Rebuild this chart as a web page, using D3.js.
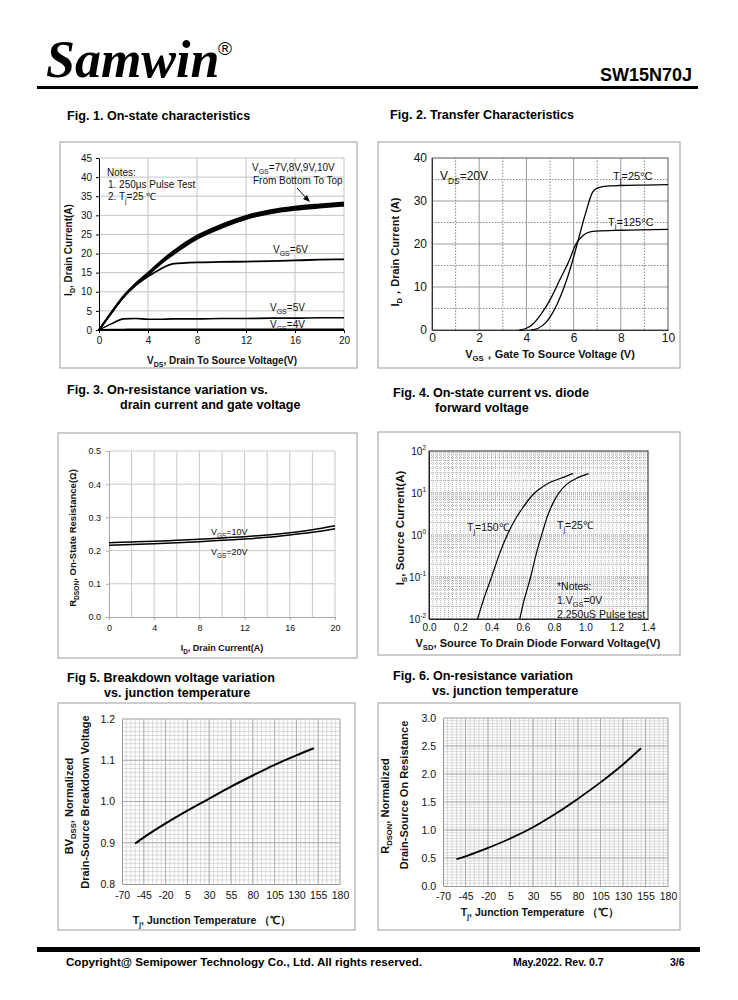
<!DOCTYPE html>
<html><head><meta charset="utf-8">
<script src="https://cdn.jsdelivr.net/npm/d3@7"></script>
<style>body{margin:0;background:#fff}svg{display:block}</style>
</head><body><svg id="c" width="738" height="1000"></svg>
<script>
// ---------- data ----------
const fig1Vds  = [0,1,2,3,4,5,6,8,10,12,14,16,18,20];
const fig1Id7  = [0,4.4,8.6,11.8,14.4,17.2,19.6,23.8,26.7,29.0,30.5,31.4,32.0,32.5];
const fig1Id8  = [0,4.5,8.7,11.9,14.6,17.5,19.9,24.1,27.0,29.3,30.8,31.7,32.3,32.8];
const fig1Id9  = [0,4.5,8.8,12.1,14.8,17.7,20.2,24.4,27.3,29.6,31.1,32.0,32.6,33.1];
const fig1Id10 = [0,4.6,8.9,12.2,15.0,17.9,20.5,24.7,27.6,29.9,31.4,32.3,32.9,33.4];
const fig1Id6  = [0,4.4,8.6,11.7,14.0,15.9,17.3,17.7,17.8,17.9,18.0,18.2,18.4,18.5];
const fig1Id5  = [0,1.6,2.9,3.0,2.8,2.8,2.9,2.9,3.0,3.0,3.1,3.1,3.2,3.2];
const fig1Id4  = [0,0.1,0.15,0.2,0.2,0.2,0.2,0.2,0.2,0.2,0.2,0.2,0.2,0.2];

const fig2Vgs25  = [4.2,4.5,4.8,5.0,5.3,5.6,5.9,6.2,6.5,6.8,7.0,7.5,8,9,10];
const fig2Id25   = [0,0.4,1.6,3,6,10,15,21,27,32,33,33.5,33.6,33.7,33.8];
const fig2Vgs125 = [3.7,4.0,4.3,4.6,5.0,5.4,5.8,6.1,6.4,6.7,7,8,10];
const fig2Id125  = [0,0.4,1.5,3.5,7,11.5,16,20,22,22.8,23,23.2,23.4];

const fig3Id  = [0,2,4,6,8,10,12,14,16,18,20];
const fig3R10 = [0.224,0.226,0.228,0.231,0.234,0.238,0.242,0.247,0.254,0.263,0.275];
const fig3R20 = [0.216,0.218,0.221,0.224,0.227,0.231,0.235,0.240,0.247,0.255,0.266];

const fig4V150 = [0.31,0.35,0.40,0.45,0.50,0.55,0.60,0.675,0.75,0.85,0.92];
const fig4I150 = [0.01,0.03,0.1,0.35,1,2.3,4.5,10,16,23,29];
const fig4V25  = [0.58,0.61,0.65,0.685,0.72,0.76,0.80,0.83,0.88,0.95,1.02];
const fig4I25  = [0.01,0.03,0.1,0.35,1,3,6.5,10,16,23,29];

const figTj   = [-55,-45,-20,5,30,55,80,105,130,150];
const fig5BV  = [0.898,0.913,0.947,0.978,1.007,1.036,1.063,1.089,1.112,1.129];
const fig6R   = [0.48,0.53,0.68,0.85,1.05,1.29,1.56,1.85,2.17,2.46];

const tjTicks = [-70,-45,-20,5,30,55,80,105,130,155,180];

// ---------- helpers ----------
const svg = d3.select('#c');
const SANS = "'Liberation Sans', Arial, sans-serif";
const NARROW = "'Liberation Sans Narrow', 'Arial Narrow', 'Liberation Sans', sans-serif";
const SERIF = "'Liberation Serif', 'Times New Roman', serif";

function txt(g, x, y, parts, o = {}) {
  const fs = o.fs || 10;
  const t = g.append('text').attr('x', x).attr('y', y)
    .attr('font-family', o.ff || SANS).attr('font-size', fs)
    .attr('font-weight', o.bold ? 'bold' : 'normal')
    .attr('font-style', o.italic ? 'italic' : 'normal')
    .attr('text-anchor', o.anchor || 'start')
    .attr('fill', o.fill || '#111');
  if (o.rot) t.attr('transform', `rotate(-90 ${x} ${y})`);
  if (typeof parts === 'string') parts = [parts];
  let shift = 0;
  parts.forEach(p => {
    const s = typeof p === 'string' ? {t: p} : p;
    const target = s.sub ? fs * 0.3 : s.sup ? -fs * 0.4 : 0;
    const ts = t.append('tspan').text(s.t);
    if (target - shift !== 0) ts.attr('dy', target - shift);
    if (s.sub || s.sup) ts.attr('font-size', fs * 0.7);
    shift = target;
  });
  return t;
}
function frame(box, xd, xr, yd, yr, log) {
  const g = svg.append('g');
  g.append('rect').attr('x', box[0]).attr('y', box[1])
    .attr('width', box[2] - box[0]).attr('height', box[3] - box[1])
    .attr('fill', 'none').attr('stroke', '#b8b8b8').attr('stroke-width', 1.4);
  const x = d3.scaleLinear().domain(xd).range(xr);
  const y = (log ? d3.scaleLog() : d3.scaleLinear()).domain(yd).range(yr);
  return {g, x, y};
}
function gridX(c, vals, stroke, dash, w) {
  c.g.append('g').selectAll('line').data(vals).join('line')
    .attr('x1', d => c.x(d)).attr('x2', d => c.x(d))
    .attr('y1', c.y.range()[0]).attr('y2', c.y.range()[1])
    .attr('stroke', stroke).attr('stroke-width', w || 1)
    .attr('stroke-dasharray', dash || null);
}
function gridY(c, vals, stroke, dash, w) {
  c.g.append('g').selectAll('line').data(vals).join('line')
    .attr('y1', d => c.y(d)).attr('y2', d => c.y(d))
    .attr('x1', c.x.range()[0]).attr('x2', c.x.range()[1])
    .attr('stroke', stroke).attr('stroke-width', w || 1)
    .attr('stroke-dasharray', dash || null);
}
function curve(c, xs, ys, w) {
  c.g.append('path').datum(xs.map((v, i) => [v, ys[i]]))
    .attr('d', d3.line().x(d => c.x(d[0])).y(d => c.y(d[1])).curve(d3.curveMonotoneX))
    .attr('fill', 'none').attr('stroke', '#000').attr('stroke-width', w || 1.5)
    .attr('stroke-linejoin', 'round');
}
function axes(c, o) {
  const ax = c.g.append('g').attr('transform', `translate(0,${c.y.range()[0]})`)
    .call(d3.axisBottom(c.x).tickValues(o.xt).tickFormat(o.xf || (d => d))
      .tickSize(o.ts ?? 3).tickSizeOuter(0).tickPadding(o.xpad ?? 4));
  const ay = c.g.append('g').attr('transform', `translate(${c.x.range()[0]},0)`)
    .call(d3.axisLeft(c.y).tickValues(o.yt).tickFormat(o.yf || (d => d))
      .tickSize(o.ts ?? 3).tickSizeOuter(0).tickPadding(o.ypad ?? 4));
  [ax, ay].forEach(a => {
    a.attr('font-family', o.ff).attr('font-size', o.fs);
    a.selectAll('text').attr('fill', '#111');
    a.select('.domain').attr('stroke', o.axc || '#000').attr('stroke-width', o.aw || 1);
    a.selectAll('.tick line').attr('stroke', o.axc || '#000');
  });
  return {ax, ay};
}
function range(a, b, s) { const r = []; for (let v = a; v <= b + 1e-9; v += s) r.push(+v.toFixed(4)); return r; }

// ---------- header / footer ----------
const hg = svg.append('g');
txt(hg, 46, 77, 'Samwin', {ff: SERIF, fs: 52, bold: true, italic: true, fill: '#000'});
txt(hg, 218, 55, '®', {ff: SANS, fs: 19, fill: '#000'});
txt(hg, 692, 81, 'SW15N70J', {ff: SANS, fs: 18, bold: true, anchor: 'end', fill: '#000'});
hg.append('rect').attr('x', 37).attr('y', 86).attr('width', 661).attr('height', 3).attr('fill', '#000');
hg.append('rect').attr('x', 37).attr('y', 947).attr('width', 663).attr('height', 5).attr('fill', '#000');
txt(hg, 66, 966, 'Copyright@ Semipower Technology Co., Ltd. All rights reserved.', {fs: 11.6, bold: true, fill: '#000'});
txt(hg, 513, 966, 'May.2022. Rev. 0.7', {fs: 10.5, bold: true, fill: '#000'});
txt(hg, 670, 966, '3/6', {fs: 10.5, bold: true, fill: '#000'});

// titles
const T = {fs: 12.6, bold: true, fill: '#000'};
txt(hg, 67, 120, 'Fig. 1. On-state characteristics', T);
txt(hg, 390, 119, 'Fig. 2. Transfer Characteristics', T);
txt(hg, 67, 394, 'Fig. 3. On-resistance variation vs.', T);
txt(hg, 120, 409, 'drain current and gate voltage', T);
txt(hg, 393, 397, 'Fig. 4. On-state current vs. diode', T);
txt(hg, 435, 412, 'forward voltage', T);
txt(hg, 67, 682, 'Fig 5. Breakdown voltage variation', T);
txt(hg, 104, 697, 'vs. junction temperature', T);
txt(hg, 393, 680, 'Fig. 6. On-resistance variation', T);
txt(hg, 432, 695, 'vs. junction temperature', T);

// ---------- Fig 1 ----------
{
  const c = frame([60, 142, 357, 368], [0, 20], [99, 344], [0, 45], [330, 158]);
  gridY(c, range(5, 45, 5), '#c4c4c4');
  gridX(c, range(4, 20, 4), '#c4c4c4');
  axes(c, {xt: range(0, 20, 4), yt: range(0, 45, 5), ff: NARROW, fs: 10, ts: 3});
  [fig1Id7, fig1Id8, fig1Id9, fig1Id10].forEach(s => curve(c, fig1Vds, s, 1.7));
  curve(c, fig1Vds, fig1Id6, 1.8);
  curve(c, fig1Vds, fig1Id5, 1.6);
  curve(c, fig1Vds, fig1Id4, 1.6);
  const o = {ff: NARROW, fs: 10};
  txt(c.g, 107, 176, 'Notes:', o);
  txt(c.g, 108, 188, '1. 250μs  Pulse Test', o);
  txt(c.g, 108, 200, ['2. T', {t: 'j', sub: true}, '=25 ℃'], o);
  txt(c.g, 252, 171, ['V', {t: 'GS', sub: true}, '=7V,8V,9V,10V'], o);
  txt(c.g, 253, 184, 'From Bottom To Top', o);
  c.g.append('line').attr('x1', 297).attr('y1', 188).attr('x2', 308).attr('y2', 200)
    .attr('stroke', '#000').attr('stroke-width', 1);
  c.g.append('path').attr('d', 'M310,202 L303,199 L307,195 Z').attr('fill', '#000');
  txt(c.g, 273, 253, ['V', {t: 'GS', sub: true}, '=6V'], o);
  txt(c.g, 270, 311, ['V', {t: 'GS', sub: true}, '=5V'], o);
  txt(c.g, 270, 328, ['V', {t: 'GS', sub: true}, '=4V'], o);
  txt(c.g, 222, 364, ['V', {t: 'DS', sub: true}, ', Drain To Source Voltage(V)'], {ff: NARROW, fs: 10, bold: true, anchor: 'middle'});
  txt(c.g, 72, 250, ['I', {t: 'D', sub: true}, ',  Drain Current(A)'], {ff: NARROW, fs: 10, bold: true, anchor: 'middle', rot: true});
}

// ---------- Fig 2 ----------
{
  const c = frame([378, 142, 680, 368], [0, 10], [432, 668], [0, 40], [330, 158]);
  gridX(c, [1, 3, 5, 7, 9], '#888', '1.5,1.5');
  gridX(c, [2, 4, 6, 8], '#999');
  gridY(c, [5, 15, 25, 35], '#888', '1.5,1.5');
  gridY(c, [10, 20, 30], '#999');
  c.g.append('rect').attr('x', 432).attr('y', 158).attr('width', 236).attr('height', 172)
    .attr('fill', 'none').attr('stroke', '#555');
  axes(c, {xt: range(0, 10, 2), yt: range(0, 40, 10), ff: SANS, fs: 12, ts: 0, xpad: 3, ypad: 5, axc: '#333'});
  curve(c, fig2Vgs25, fig2Id25, 1.3);
  curve(c, fig2Vgs125, fig2Id125, 1.3);
  txt(c.g, 440, 180, ['V', {t: 'DS', sub: true}, '=20V'], {fs: 12});
  txt(c.g, 613, 180, ['T', {t: 'j', sub: true}, '=25°C'], {fs: 11});
  txt(c.g, 608, 226, ['T', {t: 'j', sub: true}, '=125°C'], {fs: 11});
  txt(c.g, 550, 358, ['V', {t: 'GS', sub: true}, '，Gate To Source Voltage (V)'], {fs: 11, bold: true, anchor: 'middle'});
  txt(c.g, 399, 252, ['I', {t: 'D', sub: true}, '，Drain Current (A)'], {fs: 11, bold: true, anchor: 'middle', rot: true});
}

// ---------- Fig 3 ----------
{
  const c = frame([58, 433, 357, 658], [0, 20], [109, 335], [0, 0.5], [617, 451]);
  gridY(c, range(0.1, 0.5, 0.1), '#c8c8c8');
  gridX(c, range(2, 20, 2), '#c8c8c8');
  axes(c, {xt: range(0, 20, 4), yt: range(0, 0.5, 0.1), yf: d3.format('.1f'), ff: SANS, fs: 9, ts: 3, xpad: 5, ypad: 5, axc: '#aaa'});
  curve(c, fig3Id, fig3R10, 1.5);
  curve(c, fig3Id, fig3R20, 1.5);
  const o = {fs: 9};
  txt(c.g, 211, 535, ['V', {t: 'GS', sub: true}, '=10V'], o);
  txt(c.g, 211, 555, ['V', {t: 'GS', sub: true}, '=20V'], o);
  txt(c.g, 222, 651, ['I', {t: 'D', sub: true}, ', Drain Current(A)'], {fs: 9, bold: true, anchor: 'middle'});
  txt(c.g, 76, 538, ['R', {t: 'DSON', sub: true}, ', On-State Resistance(Ω)'], {fs: 9.5, bold: true, anchor: 'middle', rot: true});
}

// ---------- Fig 4 ----------
{
  const c = frame([378, 432, 680, 655], [0, 1.4], [429, 648], [0.01, 100], [619, 451], true);
  const minors = [];
  [0.01, 0.1, 1, 10].forEach(d => { for (let k = 2; k <= 9; k++) minors.push(d * k); });
  gridX(c, range(0.025, 1.375, 0.025), '#9a9a9a', '1,1', 0.8);
  gridY(c, minors, '#9a9a9a', '1,1', 0.8);
  gridY(c, [0.1, 1, 10], '#888', '1,1', 1);
  c.g.append('rect').attr('x', 429).attr('y', 451).attr('width', 219).attr('height', 168)
    .attr('fill', 'none').attr('stroke', '#222');
  const {ay} = axes(c, {xt: range(0, 1.4, 0.2), xf: d3.format('.1f'), yt: [0.01, 0.1, 1, 10, 100], yf: () => '', ff: SANS, fs: 10, ts: 0, xpad: 5, ypad: 3, axc: '#222'});
  ay.selectAll('.tick text').each(function (d) {
    const t = d3.select(this);
    t.append('tspan').text('10');
    t.append('tspan').attr('dy', -5).attr('font-size', 6.5).text(Math.round(Math.log10(d)));
  });
  curve(c, fig4V150, fig4I150, 1.2);
  curve(c, fig4V25, fig4I25, 1.2);
  const o = {fs: 10.5};
  txt(c.g, 467, 531, ['T', {t: 'j', sub: true}, '=150℃'], o);
  txt(c.g, 557, 529, ['T', {t: 'j', sub: true}, '=25℃'], o);
  txt(c.g, 557, 590, '*Notes:', o);
  txt(c.g, 557, 604, ['1.V', {t: 'GS', sub: true}, '=0V'], o);
  txt(c.g, 557, 618, '2.250uS Pulse test', o);
  txt(c.g, 538, 647, ['V', {t: 'SD', sub: true}, ', Source To Drain Diode Forward Voltage(V)'], {fs: 11, bold: true, anchor: 'middle'});
  txt(c.g, 404, 528, ['I', {t: 'S', sub: true}, ', Source Current(A)'], {fs: 11.5, bold: true, anchor: 'middle', rot: true});
}

// ---------- Fig 5 ----------
{
  const c = frame([58, 703, 355, 930], [-70, 180], [122, 340], [0.8, 1.2], [884, 719]);
  gridX(c, range(-65, 180, 5), '#d0d0d0', null, 0.8);
  gridY(c, range(0.81, 1.2, 0.01), '#d0d0d0', null, 0.8);
  gridX(c, tjTicks.slice(1), '#a8a8a8', null, 0.9);
  gridY(c, [0.9, 1.0, 1.1, 1.2], '#a8a8a8', null, 0.9);
  axes(c, {xt: tjTicks, yt: range(0.8, 1.2, 0.1), yf: d3.format('.1f'), ff: NARROW, fs: 10.5, ts: 0, xpad: 8, ypad: 7, axc: '#999'});
  curve(c, figTj, fig5BV, 2);
  txt(c.g, 212, 924, ['T', {t: 'j', sub: true}, ', Junction Temperature （℃）'], {ff: NARROW, fs: 10.5, bold: true, anchor: 'middle'});
  txt(c.g, 73, 806, ['BV', {t: 'DSS', sub: true}, ', Normalized'], {ff: NARROW, fs: 11, bold: true, anchor: 'middle', rot: true});
  txt(c.g, 89, 802, 'Drain-Source Breakdown Voltage', {ff: NARROW, fs: 11, bold: true, anchor: 'middle', rot: true});
}

// ---------- Fig 6 ----------
{
  const c = frame([378, 703, 680, 930], [-70, 180], [443, 668], [0, 3], [886, 718]);
  gridX(c, range(-65, 180, 5), '#d0d0d0', null, 0.8);
  gridY(c, range(0.05, 3, 0.05), '#d0d0d0', null, 0.8);
  gridX(c, tjTicks.slice(1), '#a8a8a8', null, 0.9);
  gridY(c, range(0.5, 3, 0.5), '#a8a8a8', null, 0.9);
  axes(c, {xt: tjTicks, yt: range(0, 3, 0.5), yf: d3.format('.1f'), ff: NARROW, fs: 10.5, ts: 0, xpad: 7, ypad: 7, axc: '#999'});
  curve(c, figTj, fig6R, 1.8);
  txt(c.g, 540, 916, ['T', {t: 'j', sub: true}, ', Junction Temperature （℃）'], {ff: NARROW, fs: 10.5, bold: true, anchor: 'middle'});
  txt(c.g, 389, 806, ['R', {t: 'DSON', sub: true}, ', Normalized'], {ff: NARROW, fs: 11, bold: true, anchor: 'middle', rot: true});
  txt(c.g, 408, 795, 'Drain-Source On Resistance', {ff: NARROW, fs: 11, bold: true, anchor: 'middle', rot: true});
}
</script></body></html>
